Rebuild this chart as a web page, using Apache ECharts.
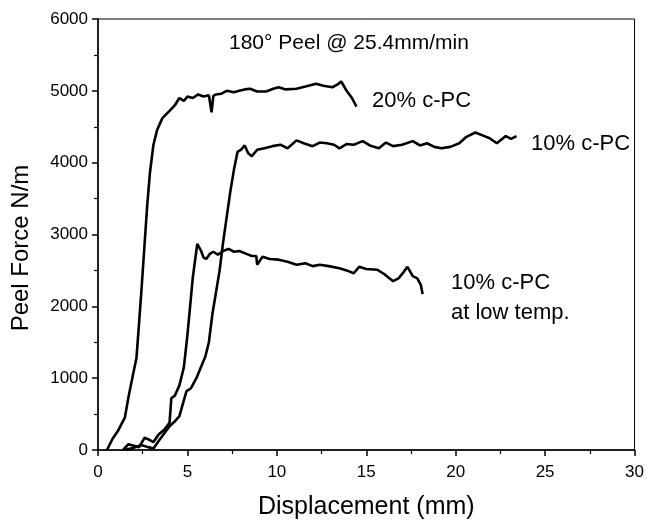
<!DOCTYPE html>
<html>
<head>
<meta charset="utf-8">
<script src="https://cdn.jsdelivr.net/npm/echarts@6/dist/echarts.min.js"></script>
<style>
  html, body { margin: 0; padding: 0; background: #fff; }
  #peelChart { width: 647px; height: 525px; }
</style>
</head>
<body>
<div id="peelChart"></div>
<script>
// displacement (mm) / peel force (N/m)
const disp20 = [0.5, 0.8, 1.1, 1.5, 1.7, 1.95, 2.15, 2.3, 2.45, 2.6, 2.75, 2.9, 3.1, 3.3, 3.6, 4.0, 4.3, 4.55, 4.8, 5.0, 5.3, 5.6, 5.9, 6.2, 6.35, 6.45, 6.6, 6.9, 7.2, 7.6, 7.9, 8.2, 8.5, 8.9, 9.4, 9.8, 10.1, 10.5, 11.1, 11.6, 12.2, 12.6, 13.1, 13.4, 13.6, 13.9, 14.2, 14.45];
const force20 = [0, 150, 260, 450, 730, 1040, 1280, 1780, 2300, 2850, 3400, 3850, 4250, 4450, 4620, 4720, 4800, 4900, 4860, 4920, 4900, 4950, 4920, 4940, 4700, 4930, 4950, 4960, 5000, 4980, 5000, 5020, 5030, 4990, 4990, 5030, 5050, 5020, 5030, 5060, 5100, 5070, 5050, 5090, 5130, 5000, 4900, 4780];

const disp10 = [1.5, 2.0, 2.4, 2.8, 3.1, 3.4, 3.7, 4.0, 4.3, 4.55, 4.75, 4.95, 5.2, 5.5, 5.8, 6.0, 6.2, 6.4, 6.6, 6.8, 7.0, 7.2, 7.4, 7.6, 7.8, 8.0, 8.2, 8.4, 8.6, 8.9, 9.3, 9.75, 10.2, 10.6, 11.1, 11.5, 12.0, 12.4, 12.8, 13.2, 13.5, 13.9, 14.3, 14.8, 15.2, 15.7, 16.1, 16.5, 17.0, 17.6, 18.0, 18.4, 18.8, 19.2, 19.7, 20.2, 20.6, 21.1, 21.5, 21.9, 22.3, 22.8, 23.1, 23.4];
const force10 = [0, 30, 70, 40, 20, 130, 230, 330, 400, 470, 650, 820, 860, 1000, 1180, 1300, 1500, 1900, 2200, 2500, 2900, 3250, 3600, 3900, 4150, 4180, 4240, 4130, 4090, 4180, 4200, 4230, 4250, 4200, 4310, 4270, 4230, 4280, 4270, 4250, 4200, 4260, 4250, 4300, 4240, 4200, 4280, 4230, 4250, 4300, 4240, 4270, 4220, 4200, 4220, 4270, 4360, 4420, 4380, 4340, 4270, 4370, 4330, 4370];

const dispLow = [1.4, 1.7, 2.0, 2.3, 2.6, 2.8, 3.1, 3.4, 3.7, 4.0, 4.1, 4.3, 4.55, 4.8, 5.0, 5.3, 5.55, 5.75, 5.9, 6.05, 6.25, 6.45, 6.7, 7.0, 7.3, 7.6, 7.9, 8.3, 8.6, 8.85, 8.9, 9.2, 9.6, 10.1, 10.6, 11.1, 11.6, 12.0, 12.4, 12.9, 13.5, 13.9, 14.3, 14.6, 15.0, 15.6, 16.0, 16.5, 16.8, 17.1, 17.3, 17.6, 17.85, 18.05, 18.15];
const forceLow = [0, 80, 60, 40, 170, 150, 110, 220, 280, 380, 720, 760, 900, 1150, 1600, 2400, 2870, 2780, 2680, 2660, 2730, 2760, 2720, 2770, 2800, 2760, 2770, 2730, 2700, 2700, 2580, 2690, 2660, 2650, 2620, 2580, 2600, 2560, 2580, 2560, 2530, 2500, 2460, 2550, 2520, 2510, 2450, 2350, 2390, 2480, 2550, 2420, 2390, 2300, 2170];

const xTicks = [0, 5, 10, 15, 20, 25, 30];
const yTicks = [0, 1000, 2000, 3000, 4000, 5000, 6000];

const font = 'Liberation Sans, Arial, Helvetica, sans-serif';

function pairs(xs, ys) {
  return xs.map((x, i) => [x, ys[i]]);
}

function curve(name, xs, ys) {
  return {
    name,
    type: 'line',
    data: pairs(xs, ys),
    showSymbol: false,
    silent: true,
    lineStyle: { color: '#000', width: 2.6 },
  };
}

const axisBase = {
  axisLine: { show: true, lineStyle: { color: '#000', width: 1.5 } },
  axisTick: { show: true, length: 6, lineStyle: { color: '#000', width: 1.5 } },
  minorTick: { show: true, splitNumber: 2, length: 4, lineStyle: { color: '#000', width: 1.2 } },
  splitLine: { show: false },
  axisLabel: { color: '#000', fontFamily: font, fontSize: 17, formatter: (v) => String(v) },
};

const textStyle = { fontFamily: font, fontSize: 22, fontWeight: 'normal', color: '#000' };

const chart = echarts.init(document.getElementById('peelChart'));
chart.setOption({
  animation: false,
  backgroundColor: '#fff',
  grid: {
    left: 98,
    right: 12,
    top: 19,
    bottom: 69,
    show: true,
    borderColor: '#000',
    borderWidth: 1,
  },
  title: [
    { text: '180° Peel @ 25.4mm/min', left: 224, top: 28, textStyle: { ...textStyle, fontSize: 21 } },
    { text: '20% c-PC', left: 367, top: 85, textStyle },
    { text: '10% c-PC', left: 526, top: 128, textStyle },
    { text: '10% c-PC\nat low temp.', left: 446, top: 263, textStyle: { ...textStyle, lineHeight: 30 } },
  ],
  graphic: [
    {
      type: 'text',
      x: 9,
      y: 248,
      rotation: Math.PI / 2,
      style: {
        text: 'Peel Force N/m',
        fontFamily: font,
        fontSize: 24,
        fill: '#000',
        align: 'center',
        verticalAlign: 'top',
      },
    },
  ],
  xAxis: {
    ...axisBase,
    type: 'value',
    min: xTicks[0],
    max: xTicks[xTicks.length - 1],
    interval: 5,
    name: 'Displacement (mm)',
    nameLocation: 'middle',
    nameGap: 45,
    nameTextStyle: { fontFamily: font, fontSize: 25, color: '#000' },
    axisLabel: { ...axisBase.axisLabel, margin: 14 },
  },
  yAxis: {
    ...axisBase,
    type: 'value',
    min: yTicks[0],
    max: yTicks[yTicks.length - 1],
    interval: 1000,
    axisLabel: { ...axisBase.axisLabel, margin: 10 },
  },
  series: [
    curve('20% c-PC', disp20, force20),
    curve('10% c-PC', disp10, force10),
    curve('10% c-PC at low temp.', dispLow, forceLow),
  ],
});
</script>
</body>
</html>
